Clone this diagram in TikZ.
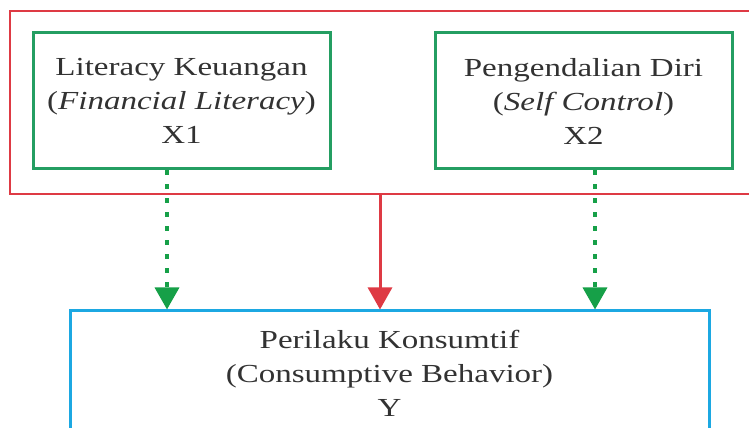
\documentclass[tikz,border=0pt]{standalone}
\usepackage{fontspec}
\setmainfont{Liberation Serif}[FakeStretch=1.27]
\usetikzlibrary{arrows.meta}
\usepackage{xcolor}
\definecolor{boxgreen}{RGB}{36,158,98}
\definecolor{tipgreen}{RGB}{22,160,72}
\definecolor{framered}{RGB}{222,58,68}
\definecolor{boxblue}{RGB}{28,168,226}
\definecolor{textgray}{RGB}{50,50,50}

\begin{document}
\begin{tikzpicture}[x=1pt, y=1pt, every node/.style={
    rectangle,
    draw,
    line width=3pt,
    inner sep=0pt,
    align=center,
    text=textgray,
    font=\fontsize{26}{34}\selectfont
}]
    \clip (0, 0) rectangle (749, 428);

    \node (variable_frame) [draw=framered, line width=2pt, minimum width=752pt, minimum height=183pt, shift={(386, 325.5)}]
    {};



    \node (literacy_x1) [draw=boxgreen, minimum width=297pt, minimum height=136pt, shift={(181.5, 327)}]
    {
        Literacy Keuangan\\(\textit{Financial Literacy})\\X1
    };
    \node (control_x2) [draw=boxgreen, minimum width=297pt, minimum height=136pt, shift={(583.5, 327)}]
    {
        Pengendalian Diri\\(\textit{Self Control})\\X2
    };



    \node (behavior_y) [draw=boxblue, minimum width=639pt, minimum height=124pt, shift={(389.5, 55)}]
    {
        Perilaku Konsumtif\\(Consumptive Behavior)\\Y
    };



    \coordinate (literacy_out) at ([xshift=-14.5pt]literacy_x1.south);
    \coordinate (control_out) at ([xshift=11.5pt]control_x2.south);
    \coordinate (frame_out) at ([xshift=-6pt]variable_frame.south);



    \draw[-{Triangle[width=24pt, length=22pt]}, tipgreen, line width=3.5pt, dash pattern=on 5pt off 9pt] (literacy_out) to (literacy_out |- behavior_y.north);
    \draw[-{Triangle[width=24pt, length=22pt]}, tipgreen, line width=3.5pt, dash pattern=on 5pt off 9pt] (control_out) to (control_out |- behavior_y.north);
    \draw[-{Triangle[width=24pt, length=22pt]}, framered, line width=3pt] (frame_out) to (frame_out |- behavior_y.north);


\end{tikzpicture}
\end{document}
